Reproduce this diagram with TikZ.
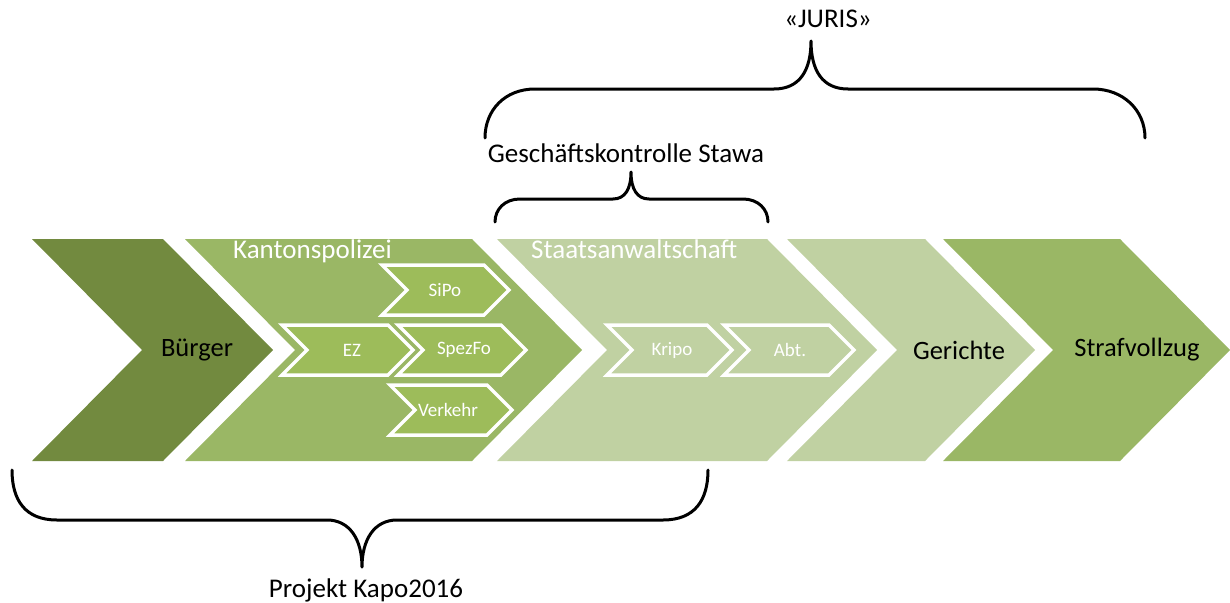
\documentclass[tikz,border=0pt]{standalone}
\usepackage{fontspec}
\setmainfont{Carlito}
\definecolor{cDark}{HTML}{728A3F}
\definecolor{cMid}{HTML}{9AB765}
\definecolor{cInner}{HTML}{9DBC5A}
\definecolor{cLight}{HTML}{C0D1A2}
\newcommand\chevshape[6]{% style, x0, x1, ytop, ybot, depth
  \path[#1] (#2,#4) -- (#3,#4) -- ({#3+#6},{(#4+#5)/2}) -- (#3,#5) -- (#2,#5) -- ({#2+#6},{(#4+#5)/2}) -- cycle;}
\begin{document}
\begin{tikzpicture}[x=1pt,y=-1pt,
  bigfill/.style={fill=#1},
  smallchev/.style={fill=#1,draw=white,line width=3.5pt,line join=miter},
  darktext/.style={text=black,font=\fontsize{26.5}{30}\selectfont,inner sep=0pt},
  whitetitle/.style={text=white,font=\fontsize{27}{30}\selectfont,inner sep=0pt,anchor=base west},
  smalltext/.style={text=white,font=\fontsize{19}{22}\selectfont,inner sep=0pt},
  bracetext/.style={text=black,font=\fontsize{27}{30}\selectfont,inner sep=0pt},
  bracestroke/.style={draw=black,line width=3pt,line cap=round,line join=round}]
\useasboundingbox (0,0) rectangle (1230,602);
% big chevrons
\chevshape{bigfill=cDark}{32}{163}{239}{461}{110}
\chevshape{bigfill=cMid}{185}{472}{239}{461}{110}
\chevshape{bigfill=cLight}{497}{767}{239}{461}{110}
\chevshape{bigfill=cLight}{787}{925}{239}{461}{110}
\chevshape{bigfill=cMid}{943}{1120}{239}{461}{110}
% small chevrons
\chevshape{smallchev=cInner}{382}{484}{265}{315}{25}
\chevshape{smallchev=cInner}{282}{388}{325}{375}{25}
\chevshape{smallchev=cInner}{398}{501}{325}{375}{25}
\chevshape{smallchev=cInner}{390}{487}{385}{435}{25}
\chevshape{smallchev=cLight}{607}{707}{325}{375}{25}
\chevshape{smallchev=cLight}{724}{829}{325}{375}{25}
% labels
\node[darktext] (buerger) at (197,350) {Bürger};
\node[darktext] (gerichte) at (959,350) {Gerichte};
\node[darktext] (straf) at (1137,350) {Strafvollzug};
\node[whitetitle] (kapo) at (233,258) {Kantonspolizei};
\node[whitetitle] (stawa) at (531,258) {Staatsanwaltschaft};
\node[smalltext] (sipo) at (445,290) {SiPo};
\node[smalltext] (ez) at (352,350) {EZ};
\node[smalltext] (spezfo) at (464,350) {SpezFo};
\node[smalltext] (verkehr) at (448,410) {Verkehr};
\node[smalltext] (kripo) at (672,350) {Kripo};
\node[smalltext] (abt) at (790,350) {Abt.};
% braces
\draw[bracestroke] (485,138) .. controls (485,110) and (505,89) .. (535,89) -- (774,89)
  .. controls (800,89) and (811,70) .. (811,41) .. controls (811,70) and (822,89) .. (848,89)
  -- (1093,89) .. controls (1123,89) and (1145,110) .. (1145,138);
\draw[bracestroke] (495,222) .. controls (495,209) and (505,199) .. (520,199) -- (613,199)
  .. controls (625,199) and (631,189) .. (631,172) .. controls (631,189) and (637,199) .. (649,199)
  -- (743,199) .. controls (758,199) and (768,209) .. (768,222);
\draw[bracestroke] (12,470) .. controls (12,500) and (25,520) .. (57,520) -- (327,520)
  .. controls (350,520) and (362,540) .. (362,567) .. controls (362,540) and (374,520) .. (397,520)
  -- (663,520) .. controls (695,520) and (708,500) .. (708,470);
\node[bracetext] (juris) at (828,19) {«JURIS»};
\node[bracetext] (gk) at (626,153) {Geschäftskontrolle Stawa};
\node[bracetext] (projekt) at (366,590) {Projekt Kapo2016};
\end{tikzpicture}
\end{document}
